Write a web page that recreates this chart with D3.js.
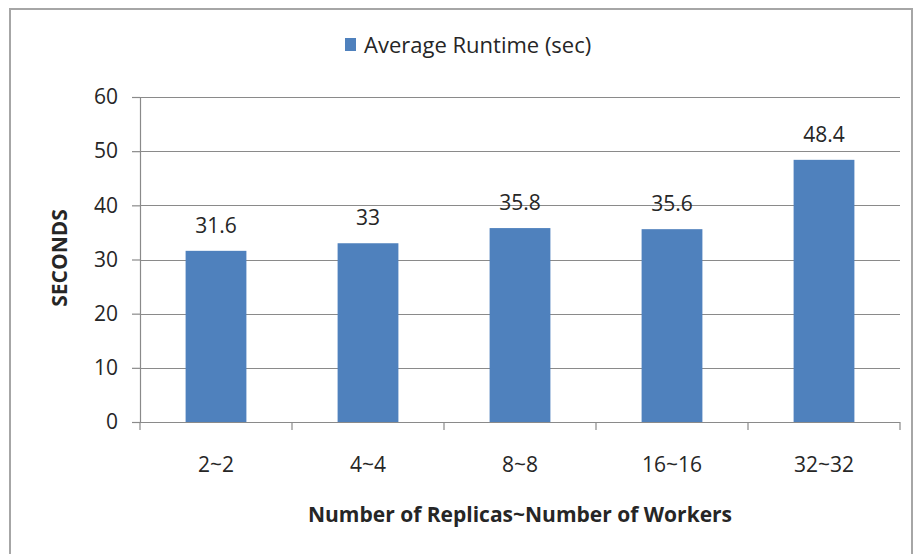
<!DOCTYPE html>
<html>
<head>
<meta charset="utf-8">
<script src="https://cdn.jsdelivr.net/npm/d3@7"></script>
<style>
  html, body { margin: 0; padding: 0; background: #fff; }
  svg { display: block; }
  text { font-family: "Open Sans", Lato, "Liberation Sans", sans-serif; fill: #262626; }
</style>
</head>
<body>
<svg id="chart" width="917" height="554"></svg>
<script>
// Runtime measurements per replica/worker configuration
const categories = ["2~2", "4~4", "8~8", "16~16", "32~32"];
const runtimes = [31.6, 33, 35.8, 35.6, 48.4];
const yTicks = [0, 10, 20, 30, 40, 50, 60];
const seriesName = "Average Runtime (sec)";
const xTitle = "Number of Replicas~Number of Workers";
const yTitle = "SECONDS";

const W = 917, H = 554;
const plot = { left: 140, right: 900, top: 97, bottom: 422 };
const barColor = "#4f81bd";
const gridColor = "#8a8a8a";

const svg = d3.select("#chart");

// outer chart frame
svg.append("rect")
  .attr("x", 10).attr("y", 9)
  .attr("width", 902).attr("height", 560)
  .attr("fill", "#fff")
  .attr("stroke", "#a6a6a6").attr("stroke-width", 2);

const x = d3.scaleBand()
  .domain(categories)
  .range([plot.left, plot.right])
  .paddingInner(0.6).paddingOuter(0.3);

const y = d3.scaleLinear()
  .domain([0, 60])
  .range([plot.bottom, plot.top]);

// horizontal gridlines
svg.append("g")
  .selectAll("line")
  .data(yTicks.filter(d => d > 0))
  .join("line")
  .attr("x1", plot.left).attr("x2", plot.right)
  .attr("y1", d => Math.round(y(d)) + 0.5).attr("y2", d => Math.round(y(d)) + 0.5)
  .attr("stroke", gridColor).attr("stroke-width", 1.2);

// bars
svg.append("g")
  .selectAll("rect")
  .data(runtimes)
  .join("rect")
  .attr("x", (d, i) => x(categories[i]))
  .attr("y", d => y(d))
  .attr("width", x.bandwidth())
  .attr("height", d => y(0) - y(d))
  .attr("fill", barColor);

// value labels
svg.append("g")
  .selectAll("text")
  .data(runtimes)
  .join("text")
  .attr("x", (d, i) => x(categories[i]) + x.bandwidth() / 2)
  .attr("y", d => y(d) - 18)
  .attr("text-anchor", "middle")
  .attr("font-size", 21)
  .text(d => d);

// y axis
const yAxis = svg.append("g")
  .attr("transform", `translate(${plot.left},0)`)
  .call(d3.axisLeft(y).tickValues(yTicks).tickSize(8).tickPadding(14).tickFormat(d3.format("d")));
yAxis.select(".domain").attr("stroke", gridColor).attr("stroke-width", 1.2);
yAxis.selectAll(".tick line").attr("stroke", gridColor).attr("stroke-width", 1.2);
yAxis.selectAll(".tick text")
  .attr("font-size", 21).attr("font-family", null).attr("fill", "#262626");

// x axis: tick marks sit on category boundaries
const step = x.step();
const boundaries = d3.range(categories.length + 1).map(i => plot.left + i * step);
svg.append("line")
  .attr("x1", plot.left).attr("x2", plot.right)
  .attr("y1", plot.bottom + 0.5).attr("y2", plot.bottom + 0.5)
  .attr("stroke", gridColor).attr("stroke-width", 1.2);
svg.append("g")
  .selectAll("line")
  .data(boundaries)
  .join("line")
  .attr("x1", d => d).attr("x2", d => d)
  .attr("y1", plot.bottom).attr("y2", plot.bottom + 8)
  .attr("stroke", gridColor).attr("stroke-width", 1.2);
svg.append("g")
  .selectAll("text")
  .data(categories)
  .join("text")
  .attr("x", d => x(d) + x.bandwidth() / 2)
  .attr("y", 472)
  .attr("text-anchor", "middle")
  .attr("font-size", 21)
  .text(d => d);

// axis titles
svg.append("text")
  .attr("x", (plot.left + plot.right) / 2)
  .attr("y", 522)
  .attr("text-anchor", "middle")
  .attr("font-size", 21)
  .attr("font-weight", "bold")
  .text(xTitle);

svg.append("text")
  .attr("transform", "translate(67,258) rotate(-90)")
  .attr("text-anchor", "middle")
  .attr("font-size", 21)
  .attr("font-weight", "bold")
  .text(yTitle);

// legend
const legend = svg.append("g").attr("transform", "translate(345,38)");
legend.append("rect")
  .attr("x", 0).attr("y", 0).attr("width", 11).attr("height", 13)
  .attr("fill", barColor);
legend.append("text")
  .attr("x", 19).attr("y", 15)
  .attr("font-size", 22)
  .text(seriesName);
</script>
</body>
</html>
